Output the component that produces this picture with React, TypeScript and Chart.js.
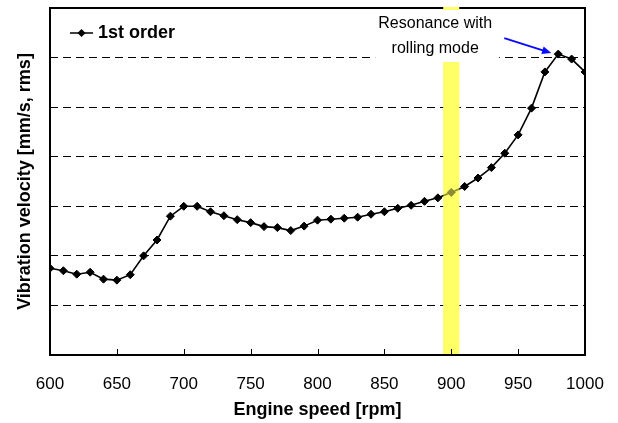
import React, { useEffect, useRef } from 'react';
import { Chart, registerables } from 'chart.js';

Chart.register(...registerables);

const rpm = [600, 610, 620, 630, 640, 650, 660, 670, 680, 690, 700, 710, 720, 730, 740, 750, 760, 770, 780, 790, 800, 810, 820, 830, 840, 850, 860, 870, 880, 890, 900, 910, 920, 930, 940, 950, 960, 970, 980, 990, 1000];
const velocity = [1.75, 1.70, 1.63, 1.67, 1.53, 1.51, 1.62, 2.00, 2.32, 2.80, 3.00, 3.00, 2.89, 2.81, 2.73, 2.67, 2.59, 2.57, 2.51, 2.60, 2.72, 2.74, 2.76, 2.78, 2.84, 2.89, 2.96, 3.02, 3.10, 3.17, 3.28, 3.40, 3.57, 3.78, 4.07, 4.44, 4.98, 5.71, 6.07, 5.97, 5.71];
const seriesLabel = '1st order';
const xTitle = 'Engine speed [rpm]';
const yTitle = 'Vibration velocity [mm/s, rms]';
const annotationLines = ['Resonance with', 'rolling mode'];
const bandFrom = 894;
const bandTo = 906;
const peakRpm = 980;
const xMin = 600;
const xMax = 1000;
const xStep = 50;
const yMin = 0;
const yMax = 7;

const FONT = '"Liberation Sans", Arial, sans-serif';

const decorPlugin = {
  id: 'decor',
  beforeDatasetsDraw(chart: any) {
    const { ctx, chartArea, scales } = chart;
    const x = scales.x;
    const bx1 = x.getPixelForValue(bandFrom);
    const bx2 = x.getPixelForValue(bandTo);
    ctx.save();
    ctx.fillStyle = '#ffff66';
    ctx.fillRect(bx1, chartArea.top - 1, bx2 - bx1, chartArea.bottom - chartArea.top + 1);
    // white box behind annotation text
    const cx = x.getPixelForValue(888);
    ctx.fillStyle = '#ffffff';
    ctx.fillRect(cx - 60, chartArea.top + 2, 124, 52);
    ctx.restore();
  },
  afterDatasetsDraw(chart: any) {
    const { ctx, chartArea, scales } = chart;
    const x = scales.x;
    const bx1 = x.getPixelForValue(bandFrom);
    const bx2 = x.getPixelForValue(bandTo);
    ctx.save();
    ctx.fillStyle = 'rgba(255,255,102,0.55)';
    ctx.fillRect(bx1, chartArea.top + 54, bx2 - bx1, chartArea.bottom - chartArea.top - 54);
    ctx.restore();
  },
  afterDraw(chart: any) {
    const { ctx, chartArea, scales } = chart;
    const x = scales.x;
    const y = scales.y;
    ctx.save();
    // frame
    ctx.strokeStyle = '#000';
    ctx.lineWidth = 2;
    ctx.strokeRect(chartArea.left, chartArea.top, chartArea.right - chartArea.left, chartArea.bottom - chartArea.top);
    // yellow band over top border
    const bx1 = x.getPixelForValue(bandFrom);
    const bx2 = x.getPixelForValue(bandTo);
    ctx.fillStyle = '#ffff66';
    ctx.fillRect(bx1, chartArea.top - 1, bx2 - bx1, 3);
    // inward x ticks
    ctx.lineWidth = 1;
    ctx.strokeStyle = '#000';
    for (let v = xMin + xStep; v < xMax; v += xStep) {
      const px = Math.round(x.getPixelForValue(v)) + 0.5;
      ctx.beginPath();
      ctx.moveTo(px, chartArea.bottom);
      ctx.lineTo(px, chartArea.bottom - 6);
      ctx.stroke();
    }
    // legend
    const ly = chartArea.top + 25;
    const lx = chartArea.left + 20;
    ctx.strokeStyle = '#000';
    ctx.lineWidth = 1.5;
    ctx.beginPath();
    ctx.moveTo(lx, ly);
    ctx.lineTo(lx + 23, ly);
    ctx.stroke();
    ctx.fillStyle = '#000';
    ctx.beginPath();
    ctx.moveTo(lx + 11.5, ly - 4);
    ctx.lineTo(lx + 15.5, ly);
    ctx.lineTo(lx + 11.5, ly + 4);
    ctx.lineTo(lx + 7.5, ly);
    ctx.closePath();
    ctx.fill();
    ctx.font = `bold 18px ${FONT}`;
    ctx.textBaseline = 'middle';
    ctx.textAlign = 'left';
    ctx.fillText(seriesLabel, lx + 28, ly);
    // annotation text
    const cx = x.getPixelForValue(888);
    ctx.font = `16px ${FONT}`;
    ctx.textAlign = 'center';
    ctx.fillText(annotationLines[0], cx, chartArea.top + 16);
    ctx.fillText(annotationLines[1], cx, chartArea.top + 41);
    // arrow
    const peakIdx = rpm.indexOf(peakRpm);
    const tipX = x.getPixelForValue(peakRpm) - 7;
    const tipY = y.getPixelForValue(velocity[peakIdx]) - 1;
    const startX = tipX - 47;
    const startY = tipY - 15;
    ctx.strokeStyle = '#0a0aff';
    ctx.fillStyle = '#0a0aff';
    ctx.lineWidth = 2;
    const ang = Math.atan2(tipY - startY, tipX - startX);
    const hl = 10;
    ctx.beginPath();
    ctx.moveTo(startX, startY);
    ctx.lineTo(tipX - Math.cos(ang) * hl * 0.8, tipY - Math.sin(ang) * hl * 0.8);
    ctx.stroke();
    ctx.beginPath();
    ctx.moveTo(tipX, tipY);
    ctx.lineTo(tipX - hl * Math.cos(ang - 0.4), tipY - hl * Math.sin(ang - 0.4));
    ctx.lineTo(tipX - hl * Math.cos(ang + 0.4), tipY - hl * Math.sin(ang + 0.4));
    ctx.closePath();
    ctx.fill();
    ctx.restore();
  },
};

export default function App() {
  const canvasRef = useRef<HTMLCanvasElement | null>(null);

  useEffect(() => {
    const canvas = canvasRef.current;
    if (!canvas) return;
    const chart = new Chart(canvas, {
      type: 'line',
      data: {
        datasets: [
          {
            label: seriesLabel,
            data: rpm.map((r, i) => ({ x: r, y: velocity[i] })),
            borderColor: '#000',
            backgroundColor: '#000',
            borderWidth: 1.6,
            pointStyle: 'rectRot',
            pointRadius: 4,
            pointBorderWidth: 1,
            pointBackgroundColor: '#000',
            pointBorderColor: '#000',
            tension: 0,
          },
        ],
      },
      options: {
        animation: false,
        responsive: false,
        devicePixelRatio: 1,
        layout: { padding: { left: 0, top: 8, right: 33, bottom: 0 } },
        plugins: {
          legend: { display: false },
          tooltip: { enabled: false },
        },
        scales: {
          x: {
            type: 'linear',
            min: xMin,
            max: xMax,
            ticks: {
              stepSize: xStep,
              color: '#000',
              font: { family: FONT, size: 17 },
              padding: 19,
              maxRotation: 0,
              callback: (v: any) => String(v),
            },
            grid: { display: false, drawTicks: false },
            border: { display: false },
            title: {
              display: true,
              text: xTitle,
              color: '#000',
              font: { family: FONT, size: 18, weight: 'bold' },
              padding: { top: 4, bottom: 2 },
            },
            afterFit: (s: any) => {
              s.height = 68;
              s.paddingLeft = 0;
              s.paddingRight = 0;
            },
          },
          y: {
            type: 'linear',
            min: yMin,
            max: yMax,
            ticks: { stepSize: 1, display: false },
            grid: {
              drawTicks: false,
              lineWidth: 1,
              color: (c: any) => (c.tick && (c.tick.value === yMin || c.tick.value === yMax) ? 'rgba(0,0,0,0)' : '#000'),
            },
            border: { display: false, dash: [8, 5] },
            title: {
              display: true,
              text: yTitle,
              color: '#000',
              font: { family: FONT, size: 18, weight: 'bold' },
              padding: { top: 14, bottom: 4 },
            },
            afterFit: (s: any) => {
              s.width = 50;
              s.paddingTop = 0;
              s.paddingBottom = 0;
            },
          },
        },
      },
      plugins: [decorPlugin],
    });
    return () => chart.destroy();
  }, []);

  return (
    <div style={{ position: 'fixed', left: 0, top: 0, width: 618, height: 423, background: '#fff' }}>
      <canvas ref={canvasRef} width={618} height={423} style={{ width: 618, height: 423, display: 'block' }} />
    </div>
  );
}
